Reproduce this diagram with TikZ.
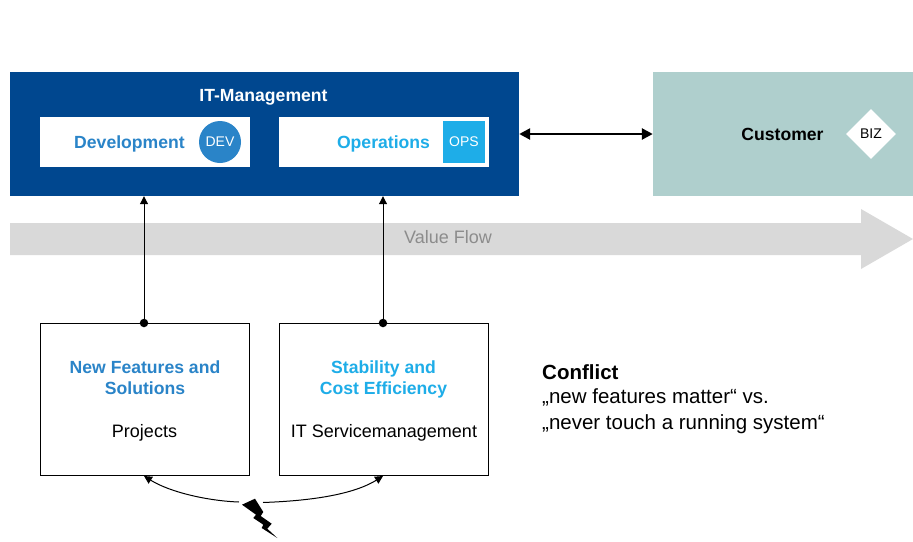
\documentclass[tikz,border=0pt]{standalone}
\usepackage{fontspec}
\setmainfont{Liberation Sans}
\usetikzlibrary{shapes.geometric,arrows.meta}
\definecolor{itblue}{HTML}{00478F}
\definecolor{devblue}{HTML}{2A84C8}
\definecolor{opsblue}{HTML}{1EADE8}
\definecolor{custteal}{HTML}{AFCFCD}
\definecolor{flowgray}{HTML}{D9D9D9}
\definecolor{flowtext}{HTML}{8C8C8C}
\begin{document}
\begin{tikzpicture}[
        x=1pt, y=-1pt,
        panel/.style={rectangle, draw=none, inner sep=0pt, minimum height=124pt},
        whitebox/.style={rectangle, fill=white, inner sep=0pt, minimum width=210pt, minimum height=50pt},
        workbox/.style={rectangle, draw=black, line width=1pt, fill=white, inner sep=0pt, minimum width=210pt, minimum height=152pt},
        big/.style={font=\fontsize{18}{21}\selectfont, align=center, inner sep=0pt},
        bigbold/.style={big, font=\fontsize{17.6}{21}\selectfont\bfseries},
        badge/.style={font=\fontsize{14}{16}\selectfont, inner sep=0pt},
        dot/.style={circle, fill=black, inner sep=0pt, minimum size=8.5pt},
        link/.style={-{Triangle[length=8pt,width=8pt]}, line width=1pt},
        ]
        \useasboundingbox (0,0) rectangle (913,541);

        % value flow
        \fill[flowgray] (10,223) -- (861,223) -- (861,209) -- (913,239) -- (861,269) -- (861,255) -- (10,255) -- cycle;
        \node (flowlabel) at (448,237.5) [big, text=flowtext] {Value Flow};

        % top row
        \node (itmgmt) at (264.5,134) [panel, fill=itblue, minimum width=509pt] {};
        \node (customer) at (783,134) [panel, fill=custteal, minimum width=260pt] {};
        \node (ittitle) at (263.5,97) [bigbold, text=white] {IT-Management};
        \node (dev) at (145,142) [whitebox] {};
        \node (ops) at (384,142) [whitebox] {};
        \node (devlabel) at (129.5,144) [bigbold, text=devblue] {Development};
        \node (opslabel) at (383.5,144) [bigbold, text=opsblue] {Operations};
        \node (devbadge) at (220,142) [circle, fill=devblue, minimum size=42pt, badge, text=white] {DEV};
        \node (opsbadge) at (464,142) [rectangle, fill=opsblue, minimum size=42pt, badge, text=white] {OPS};
        \node (custlabel) at (782.5,134) [bigbold, text=black] {Customer};
        \node (bizbadge) at (871,134) [diamond, fill=white, minimum size=50pt, badge, text=black] {BIZ};
        \draw[{Triangle[length=11pt,width=11pt]}-{Triangle[length=11pt,width=11pt]}, line width=2.5pt] (itmgmt.east) -- (customer.west);

        % lower boxes
        \node (features) at (145,399) [workbox, minimum width=209.5pt] {};
        \node (stability) at (384,399) [workbox, minimum width=209.5pt] {};
        \node (featlabel) at (145,377.5) [bigbold, text=devblue] {New Features and\\Solutions};
        \node (stablabel) at (383.5,379.5) [bigbold, text=opsblue] {Stability and\\Cost Efficiency};
        \node (projects) at (144.5,433) [big] {Projects};
        \node (itsm) at (384,433) [big] {IT Servicemanagement};

        \node (featdot) at (144,323) [dot] {};
        \node (stabdot) at (383,323) [dot] {};
        \draw[link] (featdot) -- (featdot |- itmgmt.south);
        \draw[link] (stabdot) -- (stabdot |- itmgmt.south);

        % conflict
        \node (conflict) at (542,372.5) [anchor=west, inner sep=0pt, font=\fontsize{20.5}{25}\selectfont\bfseries] {Conflict};
        \node (quotes) at (542,411.5) [anchor=west, inner sep=0pt, align=left, font=\fontsize{20.5}{26}\selectfont] {„new features matter“ vs.\\„never touch a running system“};

        % bolt and the two curved arrows
        \fill[black] (255,498.7) -- (263.3,512) -- (260.7,516) -- (271.7,523.7) -- (267.3,528.7) -- (277.3,538)
            -- (261.7,528) -- (263.3,524.7) -- (253.3,518) -- (256,514.7) -- (242,504.7) -- cycle;
        \coordinate (boltleft) at (239,502);
        \coordinate (boltright) at (263,502.5);
        \coordinate (featfoot) at (144,476);
        \coordinate (stabfoot) at (383,476);
        \draw[link] (boltleft) to[out=178, in=-32, looseness=0.8] (featfoot);
        \draw[link] (boltright) to[out=2, in=-148, looseness=0.8] (stabfoot);

    \end{tikzpicture}
\end{document}
